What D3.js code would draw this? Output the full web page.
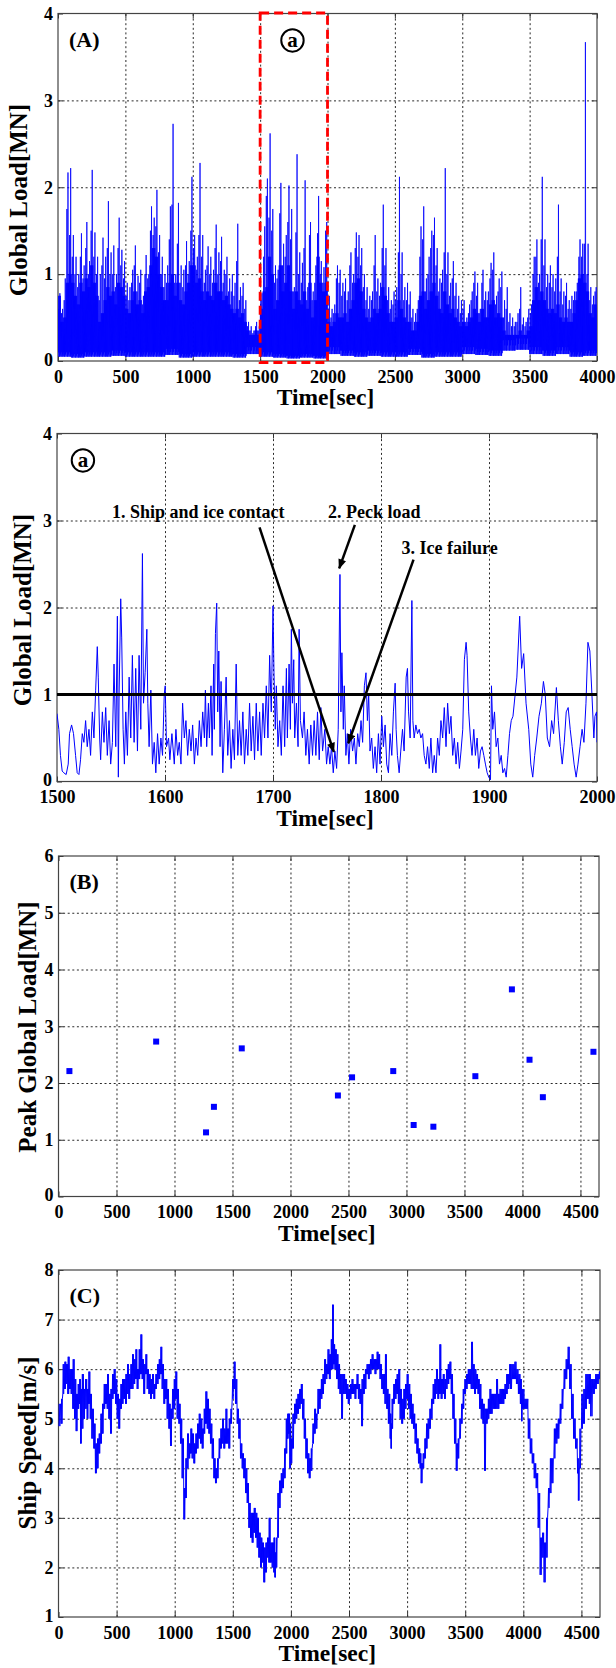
<!DOCTYPE html>
<html><head><meta charset="utf-8">
<script src="https://cdn.jsdelivr.net/npm/d3@7"></script>
<style>
body{margin:0;background:#fff}
svg{display:block}
text{font-family:"Liberation Serif","Times New Roman",serif;font-weight:bold;fill:#000}
</style>
</head><body>
<svg id="c" width="616" height="1668"></svg>
<script>
// ---------------- DATA ----------------
// (A) global load, 4000 s, per 20 s bin: peak and dense-core top; floor per 100 s
const loadBinSec = 20;
const loadPeak = [0.78,0.6,0.95,2.17,2.22, 1.45,1.2,1.0,1.47,1.1, 1.6,1.15,2.2,1.48,1.2, 1.0,1.42,1.2,1.84,1.25,
 1.33,1.0,1.65,1.28,1.15, 0.9,0.85,1.05,1.33,0.98, 1.05,0.75,1.22,1.0,1.78, 1.65,1.97,1.45,1.2,1.0,
 1.1,1.78,2.73,1.0,1.82, 1.1,1.05,1.38,1.15,2.12, 1.45,1.2,2.28,1.45,1.05, 1.32,1.2,1.05,1.57,1.25,
 1.43,1.05,1.2,0.95,1.0, 0.9,1.58,0.85,0.9,0.7, 0.45,0.4,0.35,0.45,0.4, 0.78,1.55,2.1,2.62,1.75,
 1.1,1.05,2.05,1.35,1.45, 2.02,1.75,0.85,2.38,1.25, 1.13,2.08,0.85,1.6,0.8, 1.1,1.9,1.15,1.08,1.6,
 0.75,0.6,0.65,1.1,1.05, 0.9,0.95,0.8,1.25,1.0, 1.48,1.45,1.3,1.0,0.85, 0.75,0.8,1.45,0.95,0.9,
 1.8,1.3,0.85,0.7,0.8, 0.85,2.12,1.25,0.85,0.9, 0.8,0.6,0.55,0.7,1.55, 1.78,0.95,1.2,1.5,1.65,
 1.3,0.95,1.05,2.22,1.25, 0.9,1.15,0.9,0.75,0.7, 0.7,0.5,0.65,0.8,1.03, 0.9,0.6,1.05,0.8,0.8,
 1.13,1.25,0.75,0.95,1.03, 0.7,0.85,0.55,0.5,0.45, 0.55,0.85,0.5,0.45,0.6, 0.65,1.2,1.4,1.0,2.12,
 1.4,1.0,1.1,1.0,0.95, 1.8,0.95,0.8,0.9,0.7, 0.75,0.8,0.9,1.4,1.35, 3.67,1.35,0.85,0.75,0.85];
const loadCore = [0.75,0.45,0.5,0.9,1.0, 0.9,0.75,0.65,0.9,0.8, 0.95,0.85,1.1,0.9,0.75, 0.45,0.55,0.7,0.85,0.75,
 0.8,0.65,0.9,0.85,0.75, 0.6,0.55,0.7,0.8,0.65, 0.7,0.55,0.8,0.85,1.1, 1.3,1.2,1.0,0.85,0.7,
 0.7,0.9,1.0,0.75,0.9, 0.7,0.65,0.8,0.9,1.1, 1.1,0.9,0.95,0.8,0.7, 0.8,0.75,0.7,0.9,0.8,
 0.8,0.7,0.75,0.65,0.6, 0.55,0.6,0.5,0.55,0.45, 0.35,0.3,0.3,0.35,0.3, 0.6,0.8,0.85,1.2,1.0,
 0.6,0.7,1.1,0.8,0.9, 1.1,0.8,0.6,0.8,0.7, 0.65,0.8,0.6,0.9,0.5, 0.7,1.2,0.9,0.8,0.9,
 0.45,0.4,0.45,0.55,0.5, 0.5,0.55,0.45,0.6,0.7, 0.9,0.95,0.8,0.6,0.5, 0.45,0.5,0.6,0.55,0.6,
 0.85,0.75,0.55,0.45,0.45, 0.5,0.7,0.6,0.5,0.45, 0.45,0.35,0.35,0.45,0.75, 0.8,0.6,0.7,0.8,0.9,
 0.75,0.6,0.55,0.8,0.65, 0.55,0.6,0.5,0.45,0.4, 0.45,0.4,0.45,0.5,0.6, 0.55,0.45,0.6,0.5,0.5,
 0.65,0.7,0.5,0.55,0.5, 0.35,0.3,0.3,0.3,0.3, 0.3,0.35,0.3,0.3,0.35, 0.4,0.7,0.85,0.7,0.8,
 0.7,0.6,0.55,0.6,0.55, 0.65,0.5,0.45,0.5,0.45, 0.45,0.55,0.7,0.95,1.0, 0.9,0.8,0.55,0.5,0.65];
// secondary spikes inside each 20 s bin (mid-height spikes above the dense core)
const loadMid = [0.6,0.55,0.7,1.75,1.45, 1.2,1.0,0.85,1.2,0.95, 1.3,1.0,1.5,1.2,1.0, 0.7,1.1,0.95,1.3,1.0,
 1.0,0.85,1.3,1.1,0.95, 0.75,0.7,0.9,1.1,0.8, 0.9,0.65,1.0,0.95,1.5, 1.45,1.55,1.25,1.0,0.85,
 0.9,1.4,1.8,0.9,1.35, 0.9,0.85,1.1,1.0,1.5, 1.3,1.05,1.45,1.2,0.9, 1.1,1.0,0.9,1.3,1.0,
 1.15,0.9,1.0,0.8,0.8, 0.75,1.15,0.7,0.75,0.6, 0.4,0.35,0.32,0.4,0.35, 0.7,1.2,1.9,1.65,1.5,
 0.9,0.95,1.7,1.1,1.2, 1.6,1.4,0.8,1.48,1.0, 0.9,1.3,0.7,1.45,0.7, 0.9,1.47,1.0,0.9,1.5,
 0.6,0.5,0.55,0.95,0.9, 0.75,0.8,0.7,1.1,0.9, 1.3,1.2,1.1,0.85,0.7, 0.6,0.7,1.1,0.8,0.75,
 1.3,1.1,0.7,0.6,0.65, 0.7,1.25,1.0,0.7,0.7, 0.65,0.5,0.45,0.6,1.2, 1.4,0.8,1.0,1.3,1.45,
 1.1,0.8,0.9,1.25,1.0, 0.75,0.95,0.75,0.6,0.55, 0.6,0.45,0.55,0.7,0.9, 0.75,0.55,0.9,0.7,0.7,
 0.95,1.05,0.65,0.8,0.85, 0.5,0.6,0.45,0.4,0.4, 0.45,0.6,0.42,0.4,0.5, 0.55,1.0,1.2,0.9,1.4,
 1.1,0.85,0.9,0.85,0.8, 1.2,0.8,0.65,0.75,0.6, 0.6,0.7,0.8,1.2,1.2, 1.35,1.0,0.7,0.65,0.8];
const loadFloorSec = 100;
const loadFloor = [0.05,0.04,0.05,0.05,0.06,0.05,0.05,0.05,0.07,0.04,
 0.05,0.05,0.05,0.04,0.08,0.05,0.04,0.03,0.04,0.03,
 0.08,0.06,0.05,0.06,0.05,0.05,0.07,0.04,0.05,0.05,
 0.08,0.07,0.06,0.12,0.13,0.08,0.06,0.08,0.05,0.06];

// (a) detail 1500-2000 s
const zoomT = [1500,1501.7,1503.2,1504.8,1506.3,1508.5,1510.4,1511.6,1513.5,1515.3,1517.2,1518.7,1520.3,1521.8,1523.4,1524.9,1526.5,1528,1529.6,1531.1,1532.7,1534.2,1535.8,1537.3,1538.2,1539.5,1540.4,1542,1543.5,1545.1,1546.6,1548.2,1549.7,1551.3,1552.8,1554.4,1555.9,1556.8,1557.5,1559,1559.9,1561.2,1562.4,1563.7,1565.2,1566.8,1568.3,1569.8,1571.4,1572.9,1574.5,1576,1577.6,1579.1,1580.1,1581.6,1583.2,1584.1,1585.3,1586.9,1588.4,1590,1591.5,1593.1,1594.6,1596.2,1597.7,1599.3,1600.2,1601.4,1603.3,1604.5,1606.4,1608.6,1610.1,1611.7,1613.2,1614.8,1616.3,1617.9,1619.4,1621,1622.5,1624.1,1625.6,1627.2,1628.7,1630.3,1631.8,1633.4,1634.9,1636.5,1637.4,1638.6,1640.2,1641.1,1642.6,1643.6,1645.1,1645.7,1646.7,1647.9,1648.8,1649.8,1651,1651.9,1653.5,1655,1656.6,1658.1,1659.7,1661.2,1662.8,1664.3,1665.9,1667.4,1669,1670.5,1672.1,1673.6,1675.2,1676.7,1678.3,1679.8,1681.4,1682.9,1684.5,1686,1687.6,1689.1,1690.7,1692.2,1693.8,1695.3,1696.9,1698.4,1700,1700.9,1702.1,1703.1,1704.6,
 1706.2,1707.7,1709.3,1710.8,1712.4,1713.3,1714.9,1716.1,1717,1718,1719.2,1720.1,1721.7,1723.2,1724.2,1725.4,1727.3,1728.8,1730.4,1731.9,1733.5,1735,1736.6,1738.1,1739.7,1741.2,1742.8,1744.3,1745.9,1748,1749.6,1751.1,1752.7,1754.2,1755.8,1757.3,1758.9,1760.4,1762,1762.9,1763.8,1765.1,1766,1767.5,1768.8,1770.3,1771.9,1773.7,1775.3,1776.8,1778.4,1779.9,1781.5,1783,1784.6,1786.1,1787.4,1788.6,1789.8,1791.4,1792.9,1794.5,1796,1797.6,1799.1,1800.7,1802.2,1803.8,1805.3,1806.9,1808.4,1810,1811.5,1813.1,1814,1815.2,1816.8,1818.3,1819.9,1821.4,1823.3,1824.5,1825.5,1827,1828.6,1829.5,1830.7,1832.3,1833.8,1835.4,1836.9,1838.5,1840,1841.6,1843.1,1844.7,1846.2,1847.8,1849.3,1850.9,1852.4,1854,1855.5,1857.1,1858.6,1860.2,1861.7,1863.3,1864.8,1866.4,1867.9,1869.5,1871,1872.6,1874.1,1875.7,1877.2,1878.8,1879.7,1881.2,1882.8,1884.3,1885.9,1887.4,1889,1890.5,1892.1,1893.6,1895.2,1896.7,1898.3,1899.8,1901.4,1902.3,1903.5,1905.1,1906.6,1908.2,1909.7,1911.3,1912.8,1914.4,1915.9,1917.5,1919,1920.6,
 1922.2,1925.8,1928.4,1930.2,1932.1,1934.3,1936.8,1938.7,1940.5,1942.3,1944.2,1946.3,1948.5,1950.4,1952.1,1954,1956.1,1958,1959.8,1962.4,1964.2,1966.1,1967.8,1969.7,1971.5,1973.3,1975.2,1977,1978.8,1980.7,1982.4,1984.3,1986.2,1987.9,1989.8,1991.6,1993.4,1995.3,1997.1,1998.1,1999.6,2000];
const zoomLoad = [0.78,0.6,0.3,0.12,0.1,0.08,0.2,0.55,0.65,0.55,0.3,0.1,0.08,0.25,0.55,0.45,0.7,0.4,0.6,0.3,0.8,0.5,1.05,1.55,1.2,0.5,0.25,0.8,0.45,0.85,0.3,0.7,0.2,0.45,1.35,0.4,1.9,0.05,1.0,2.1,1.65,0.6,0.2,0.8,0.3,1.2,0.5,1.45,0.45,1.3,0.35,1.45,0.6,2.62,0.9,1.25,1.75,0.9,0.4,1.05,0.2,0.45,0.1,0.55,0.2,0.5,0.3,1.0,1.1,0.4,0.5,0.25,0.55,0.2,0.6,0.3,0.45,0.2,0.9,0.5,0.7,0.3,0.6,0.35,0.65,0.2,0.5,0.3,0.7,0.4,0.8,0.5,1.05,0.4,0.9,0.5,1.1,0.3,1.35,0.6,1.7,2.05,0.8,1.5,0.4,1.15,0.1,0.6,1.2,0.3,0.7,0.15,0.6,0.25,1.35,0.3,0.7,0.3,0.8,0.2,0.6,0.3,0.9,0.35,0.75,0.25,0.9,0.35,0.8,0.3,0.9,0.5,1.1,0.5,1.45,0.8,2.02,1.25,0.6,1.1,0.4,
 0.7,0.3,1.1,0.4,1.3,0.5,1.35,0.6,1.75,0.9,1.4,0.5,0.9,0.4,1.75,0.7,0.5,0.8,0.3,0.6,0.2,0.65,0.3,0.7,0.3,0.8,0.25,0.85,0.35,0.6,0.2,0.4,0.2,0.4,0.1,0.35,0.15,0.6,2.38,0.8,1.48,0.6,1.1,0.3,0.55,0.2,0.6,0.35,0.5,0.2,0.55,0.4,0.7,0.45,1.1,1.25,0.7,1.0,0.35,0.5,0.15,0.4,0.1,0.55,0.2,0.75,0.4,0.65,0.2,0.1,0.55,0.3,0.8,1.13,0.6,0.3,0.1,0.35,0.6,0.35,1.2,1.3,0.8,0.5,2.08,0.7,0.5,0.65,0.55,0.6,0.5,0.55,0.3,0.2,0.4,0.15,0.5,0.1,0.3,0.1,0.5,0.3,0.7,0.5,0.85,0.4,0.9,0.55,0.75,0.3,0.5,0.2,0.45,0.15,0.35,0.6,1.4,1.6,1.45,0.8,0.5,0.3,0.6,0.3,0.5,0.15,0.35,0.4,0.3,0.2,0.1,0.05,0.02,1.1,0.6,0.8,0.4,0.5,0.2,0.3,0.1,0.15,0.05,0.3,0.55,0.7,
 0.75,1.2,1.9,1.3,1.47,0.9,0.6,0.2,0.05,0.3,0.5,0.75,0.9,1.15,1.0,0.5,0.4,0.7,0.55,1.08,0.7,0.4,0.2,0.45,0.8,0.85,0.6,0.4,0.2,0.05,0.2,0.4,0.6,0.45,0.9,1.6,1.5,1.0,0.5,0.75,0.8,0.45];
const thresholdLoad = 1;

// (B) peak global load
const peakTime = [94,842,1272,1340,1580,2409,2531,2886,3062,3232,3594,3909,4061,4176,4612];
const peakLoad = [2.21,2.73,1.13,1.58,2.61,1.78,2.10,2.21,1.26,1.23,2.12,3.65,2.41,1.75,2.55];

// (C) ship speed: sample times with low / high of the noisy band
const speedT = [0,23,37,52,66,80,95,109,123,138,152,166,181,190,201,218,229,247,258,273,287,304,318,333,347,362,376,390,405,419,433,448,462,476,491,505,519,534,548,562,577,591,605,620,634,648,663,677,691,706,720,734,749,763,778,792,806,821,835,849,864,878,892,907,921,935,950,964,978,993,1007,1021,1036,1050,1064,1079,1093,1107,1122,1136,1150,1165,1179,1194,1208,1222,1237,1251,1265,1280,1294,1308,1323,1337,1351,1366,1380,1394,1409,1423,1438,1452,1466,1481,1495,1509,1523,1538,1552,1566,1581,1595,1610,1624,1638,1653,1667,1681,1696,1710,1724,1739,1753,1767,1782,1796,1810,1824,1839,1853,1862,1871,1885,1899,1914,1928,1943,1957,1971,1980,1991,2000,2014,2029,2043,2057,2072,2086,2101,2115,2129,2144,2158,2172,2187,2201,2216,2230,2244,2259,2273,2287,2302,2316,2331,2345,2356,2368,2379,2394,2408,2422,2437,2451,2466,2480,2494,2509,2523,2537,2552,2566,2581,2595,2609,2624,2638,2652,2667,2681,2696,2710,2724,2739,2753,2767,2782,2796,2810,2825,2839,2854,2862,2868,2882,2897,2911,2925,2940,2954,2969,2983,2997,3012,3026,3040,3055,3069,3084,3098,3112,3121,3135,3150,3164,3178,3193,3207,3221,3236,3250,3265,3279,3293,3308,3322,3336,3351,3365,3380,3394,3408,3423,3437,3451,3466,3480,3494,3509,3523,3538,3552,3566,3581,3595,3610,3624,3638,3653,3667,3681,3696,3710,3724,3739,3753,3767,3782,3796,3811,3825,3839,3854,3868,3882,3890,3907,3924,3941,3958,3975,3985,3992,4009,4026,4043,4060,4077,4094,4111,4128,4145,4162,4179,4196,4213,4229,4246,4263,4280,4297,4314,4331,4348,4365,4382,4399,4416,4433,4450,4467,4474,4484,4500,4517,4534,4551,4568,4580,4602,4619,4636,4653];
const speedLo = [4.85,4.9,5.5,5.6,5.7,5.5,5.6,5.5,5.2,5.0,4.75,5.2,5.3,4.5,4.8,5.0,5.2,5.0,5.3,5.0,4.6,4.4,3.9,4.0,4.3,4.5,4.7,5.2,5.3,5.2,5.0,4.7,5.4,5.5,5.3,5.0,4.8,5.2,5.3,5.4,5.3,5.5,5.4,5.6,5.6,5.7,5.8,5.6,5.8,5.9,5.8,5.5,5.9,5.6,5.5,5.4,5.5,5.4,5.6,5.7,5.8,5.9,5.6,5.3,5.4,5.0,4.8,4.45,5.0,5.2,5.4,5.0,4.9,4.5,3.8,2.97,3.4,4.0,4.2,4.3,4.2,4.1,4.3,4.4,4.6,4.5,4.4,4.7,4.9,4.8,4.7,4.5,4.2,3.8,3.7,3.8,4.2,4.4,4.5,4.4,4.5,4.5,4.4,4.9,5.4,5.6,5.3,4.9,4.6,4.2,4.0,3.8,3.5,3.3,2.8,2.6,2.5,2.7,2.6,2.4,2.2,2.0,2.1,1.7,1.9,2.2,2.1,2.1,2.0,1.9,1.8,2.0,2.6,3.2,3.5,3.6,3.8,4.3,4.6,4.7,4.0,4.1,4.4,4.9,5.0,5.1,5.2,5.3,5.0,4.6,4.2,3.9,3.8,3.95,4.5,4.7,4.8,5.1,5.2,5.4,5.5,5.7,5.8,5.9,5.8,6.0,6.0,6.1,6.0,5.8,5.6,5.5,5.0,5.5,5.5,5.4,5.3,5.4,5.5,5.5,5.4,5.6,5.4,5.3,4.85,5.5,5.6,5.9,5.8,5.9,6.0,6.0,5.9,6.0,6.0,5.8,5.6,5.5,5.3,5.2,4.9,4.6,4.4,4.8,5.3,5.4,5.5,5.3,5.0,4.9,5.0,5.2,5.4,5.2,5.0,4.9,4.8,4.5,4.3,4.1,4.0,3.7,4.0,4.2,4.4,4.6,4.8,5.0,5.3,5.4,5.5,5.4,5.5,5.4,5.5,5.4,5.6,5.7,5.8,5.5,5.0,4.5,3.95,4.2,4.6,4.9,5.2,5.5,5.6,5.7,5.7,5.6,5.6,5.5,5.6,5.5,5.2,5.0,4.9,3.95,4.9,5.0,5.1,5.1,5.2,5.2,5.2,5.2,5.3,5.3,5.3,5.4,5.5,5.6,5.7,5.6,5.8,5.8,5.7,5.5,5.3,4.95,5.2,5.2,5.2,4.6,4.3,4.1,3.8,3.6,2.8,1.85,2.2,1.7,2.2,3.2,3.5,3.7,4.2,4.5,4.6,4.9,5.2,5.6,5.8,6.0,5.6,5.0,4.6,4.4,3.9,3.35,4.0,4.8,4.9,5.2,5.4,5.3,5.05,5.5,5.6,5.7,5.8];
const speedHi = [5.3,5.4,6.1,6.15,6.1,6.25,6.0,6.0,6.2,5.8,5.5,5.7,5.8,5.6,5.9,5.6,5.8,5.6,5.95,5.5,5.2,4.9,4.5,4.6,4.7,5.1,5.3,5.7,5.7,5.9,5.5,5.6,5.9,6.0,5.8,5.5,5.4,5.7,5.8,5.8,5.9,6.1,5.9,6.1,6.3,6.2,6.4,6.0,6.4,6.7,6.2,6.1,6.3,6.0,5.9,5.8,5.9,5.7,5.9,6.1,6.2,6.45,6.1,5.8,5.8,5.6,5.3,5.2,5.6,5.8,5.95,5.6,5.3,5.0,4.6,3.6,4.2,4.7,4.5,4.8,4.7,4.5,4.7,4.9,5.1,5.0,4.8,5.2,5.55,5.4,5.2,4.9,4.6,4.2,4.0,4.2,4.6,4.8,5.0,4.8,5.2,4.8,5.0,5.2,5.8,6.15,5.8,5.2,5.0,4.5,4.3,4.2,4.0,3.7,3.3,3.1,3.1,3.2,3.1,3.0,2.7,2.6,2.5,2.4,2.5,2.6,3.0,2.5,2.5,2.6,2.3,2.6,3.5,3.75,3.9,4.0,4.4,5.0,5.1,5.1,4.9,4.6,5.1,5.3,5.4,5.5,5.6,5.7,5.4,5.0,4.6,4.3,4.2,4.4,4.9,5.2,5.1,5.6,5.6,5.8,5.9,6.2,6.1,6.4,6.3,6.6,7.3,6.5,6.4,6.3,6.1,5.9,5.9,5.9,5.8,5.7,5.6,5.7,5.8,5.7,5.7,5.9,5.7,5.6,5.8,5.9,6.0,6.1,6.1,6.2,6.3,6.2,6.2,6.35,6.3,6.1,5.9,5.9,6.3,5.6,5.5,5.1,4.9,5.4,5.7,5.8,5.9,6.0,5.6,5.4,5.6,5.7,5.9,5.7,5.5,5.3,5.1,4.9,4.6,4.4,4.3,4.1,4.3,4.6,4.9,5.0,5.2,5.4,5.7,5.8,6.0,5.8,6.5,5.8,5.9,5.8,6.0,6.1,6.15,5.9,5.5,5.0,4.5,4.6,5.0,5.3,5.6,5.8,5.9,6.0,6.0,6.55,6.1,6.0,5.9,5.8,5.7,5.4,5.3,5.2,5.2,5.4,5.6,5.5,5.5,5.5,5.8,5.5,5.6,5.6,5.6,5.7,5.9,5.9,6.1,6.1,6.1,6.15,6.0,5.9,5.8,5.6,5.6,5.4,5.4,5.0,4.6,4.3,4.1,3.9,3.5,2.6,2.7,2.5,3.0,3.6,4.2,4.2,4.8,4.9,5.0,5.3,5.6,6.0,6.2,6.45,6.1,5.5,5.0,4.6,4.2,4.0,4.8,5.5,5.6,5.9,5.9,5.9,5.8,5.8,5.9,5.9,5.95];

// ticks
const ticksA_x = [0,500,1000,1500,2000,2500,3000,3500,4000];
const ticksA_y = [0,1,2,3,4];
const ticksZ_x = [1500,1600,1700,1800,1900,2000];
const ticksB_x = [0,500,1000,1500,2000,2500,3000,3500,4000,4500];
const ticksB_y = [0,1,2,3,4,5,6];
const ticksC_y = [1,2,3,4,5,6,7,8];

// annotations in panel (a)
const noteText = ["1. Ship  and ice contact","2. Peck load","3. Ice failure"];
const noteT = [1551,1751,1819];
const noteV = [3.10,3.10,2.68];
const arrowFrom = [[1687.5,2.92],[1775.8,2.95],[1830.1,2.55]];
const arrowTo = [[1756.3,0.34],[1761.3,2.45],[1769.7,0.44]];

// ---------------- DRAW ----------------
const svg = d3.select("#c");
const BLUE = "#0000ff";
const box = {
  A:{l:58,r:597,t:13.5,b:361},
  a:{l:57,r:597,t:433.5,b:781.5},
  B:{l:58.5,r:599,t:856,b:1196.5},
  C:{l:58.5,r:600,t:1270,b:1617}
};
const defs = svg.append("defs");
defs.append("marker").attr("id","arr").attr("markerUnits","userSpaceOnUse")
  .attr("viewBox","0 0 10 8").attr("refX",9).attr("refY",4)
  .attr("markerWidth",11).attr("markerHeight",8).attr("orient","auto")
  .append("path").attr("d","M0,0 L10,4 L0,8 Z").attr("fill","#000");

function clip(id,b){
  defs.append("clipPath").attr("id",id).append("rect")
    .attr("x",b.l).attr("y",b.t).attr("width",b.r-b.l).attr("height",b.b-b.t);
}

function frame(b,x,y,xt,yt,yTitle,ytx,yty,label){
  const g = svg.append("g");
  const w=b.r-b.l, h=b.b-b.t;
  const inner = v=>Math.abs(v-b.l)>1.5 && Math.abs(v-b.r)>1.5;
  const innerY = v=>Math.abs(v-b.t)>1.5 && Math.abs(v-b.b)>1.5;
  const gx = g.append("g").attr("transform",`translate(0,${b.b})`)
    .call(d3.axisBottom(x).tickValues(xt.filter(v=>inner(x(v)))).tickSize(-h).tickFormat(""));
  gx.select(".domain").remove();
  gx.selectAll("line").attr("stroke","#111").attr("stroke-width",0.9).attr("stroke-dasharray","2,2.6");
  const gy = g.append("g").attr("transform",`translate(${b.l},0)`)
    .call(d3.axisLeft(y).tickValues(yt.filter(v=>innerY(y(v)))).tickSize(-w).tickFormat(""));
  gy.select(".domain").remove();
  gy.selectAll("line").attr("stroke","#111").attr("stroke-width",0.9).attr("stroke-dasharray","2,2.6");
  const tk = [
    [d3.axisBottom(x).tickValues(xt).tickSize(-5).tickFormat(""), `translate(0,${b.b})`],
    [d3.axisTop(x).tickValues(xt).tickSize(-5).tickFormat(""), `translate(0,${b.t})`],
    [d3.axisLeft(y).tickValues(yt).tickSize(-5).tickFormat(""), `translate(${b.l},0)`],
    [d3.axisRight(y).tickValues(yt).tickSize(-5).tickFormat(""), `translate(${b.r},0)`]
  ];
  tk.forEach(([ax,tr])=>{
    const s=g.append("g").attr("transform",tr).call(ax);
    s.select(".domain").remove();
    s.selectAll("line").attr("stroke","#333").attr("stroke-width",1);
  });
  g.append("rect").attr("x",b.l).attr("y",b.t).attr("width",w).attr("height",h)
    .attr("fill","none").attr("stroke","#444").attr("stroke-width",1.2);
  const lx = g.append("g").attr("transform",`translate(0,${b.b})`)
    .call(d3.axisBottom(x).tickValues(xt).tickSize(0).tickPadding(9).tickFormat(d3.format("d")));
  lx.select(".domain").remove();
  const ly = g.append("g").attr("transform",`translate(${b.l},0)`)
    .call(d3.axisLeft(y).tickValues(yt).tickSize(0).tickPadding(5).tickFormat(d3.format("d")));
  ly.select(".domain").remove();
  [lx,ly].forEach(s=>s.attr("font-family",null).attr("font-size",null)
     .selectAll("text").attr("font-size",18).attr("font-weight","bold").attr("fill","#000"));
  ly.selectAll("text").filter(d=>Math.abs(y(d)-b.b)<1).attr("dy","0.24em");
  svg.append("text").attr("x",(b.l+b.r)/2-2).attr("y",b.b+44).attr("text-anchor","middle")
    .attr("font-size",23.5).text("Time[sec]");
  svg.append("text").attr("transform",`translate(${ytx},${yty}) rotate(-90)`)
    .attr("text-anchor","middle").attr("dy","0.32em").attr("font-size",25).text(yTitle);
  if(label) svg.append("text").attr("x",b.l+11).attr("y",b.t+33).attr("font-size",22).text(label);
}

function circledA(cx,cy){
  svg.append("circle").attr("cx",cx).attr("cy",cy).attr("r",11.2)
    .attr("fill","#fff").attr("stroke","#000").attr("stroke-width",2);
  svg.append("text").attr("x",cx).attr("y",cy+6.5).attr("text-anchor","middle")
    .attr("font-size",21).text("a");
}

// ---------- Panel A ----------
{
  const b=box.A;
  const x=d3.scaleLinear().domain([0,4000]).range([b.l,b.r]);
  const y=d3.scaleLinear().domain([0,4]).range([b.b,b.t]);
  frame(b,x,y,ticksA_x,ticksA_y,"Global Load[MN]",19,200,"(A)");
  clip("clipA",b);
  const pts=[];
  loadPeak.forEach((pk,i)=>{
    const t0=i*loadBinSec, fl=loadFloor[Math.floor(t0/loadFloorSec)];
    const c=loadCore[i], m=loadMid[i];
    pts.push([t0,fl],[t0+2,c],[t0+4,fl*2],[t0+6,m],[t0+8,fl],[t0+10,c],
             [t0+12,fl],[t0+14,pk],[t0+16,fl*1.5],[t0+18,c]);
  });
  svg.append("path").attr("clip-path","url(#clipA)").datum(pts)
    .attr("d",d3.line().x(d=>x(d[0])).y(d=>y(d[1])))
    .attr("fill","none").attr("stroke",BLUE).attr("stroke-width",0.8);
  svg.append("rect").attr("x",x(1500)).attr("y",b.t-0.5).attr("width",x(2000)-x(1500)).attr("height",b.b-b.t+2)
    .attr("fill","none").attr("stroke","#ff0000").attr("stroke-width",2.8).attr("stroke-dasharray","9,5");
  circledA(x(1740),y(3.69));
}

// ---------- Panel a ----------
{
  const b=box.a;
  const x=d3.scaleLinear().domain([1500,2000]).range([b.l,b.r]);
  const y=d3.scaleLinear().domain([0,4]).range([b.b,b.t]);
  frame(b,x,y,ticksZ_x,ticksA_y,"Global Load[MN]",23,610,null);
  clip("clipa",b);
  svg.append("path").attr("clip-path","url(#clipa)").datum(zoomT.map((t,i)=>[t,zoomLoad[i]]))
    .attr("d",d3.line().x(d=>x(d[0])).y(d=>y(d[1])))
    .attr("fill","none").attr("stroke",BLUE).attr("stroke-width",1);
  svg.append("line").attr("x1",b.l).attr("x2",b.r).attr("y1",y(thresholdLoad)).attr("y2",y(thresholdLoad))
    .attr("stroke","#000").attr("stroke-width",3);
  circledA(x(1524),y(3.69));
  noteText.forEach((s,i)=>{
    svg.append("text").attr("x",x(noteT[i])).attr("y",y(noteV[i])+6).attr("font-size",18).text(s);
  });
  arrowFrom.forEach((f,i)=>{
    svg.append("line").attr("x1",x(f[0])).attr("y1",y(f[1])).attr("x2",x(arrowTo[i][0])).attr("y2",y(arrowTo[i][1]))
      .attr("stroke","#000").attr("stroke-width",2.5).attr("marker-end","url(#arr)");
  });
}

// ---------- Panel B ----------
{
  const b=box.B;
  const x=d3.scaleLinear().domain([0,4660]).range([b.l,b.r]);
  const y=d3.scaleLinear().domain([0,6]).range([b.b,b.t]);
  frame(b,x,y,ticksB_x,ticksB_y,"Peak Global Load[MN]",28,1027,"(B)");
  const s=6;
  svg.append("g").selectAll("rect").data(peakTime.map((t,i)=>[t,peakLoad[i]])).join("rect")
    .attr("x",d=>x(d[0])-s/2).attr("y",d=>y(d[1])-s/2).attr("width",s).attr("height",s).attr("fill",BLUE);
}

// ---------- Panel C ----------
{
  const b=box.C;
  const x=d3.scaleLinear().domain([0,4660]).range([b.l,b.r]);
  const y=d3.scaleLinear().domain([1,8]).range([b.b,b.t]);
  frame(b,x,y,ticksB_x,ticksC_y,"Ship Speed[m/s]",28,1443,"(C)");
  clip("clipC",b);
  const pts=[];
  speedT.forEach((t,i)=>{
    const nt = i<speedT.length-1 ? speedT[i+1] : 4660, d=nt-t;
    pts.push([t,speedLo[i]],[t+d*0.25,speedHi[i]],[t+d*0.5,speedLo[i]],[t+d*0.75,speedHi[i]]);
  });
  svg.append("path").attr("clip-path","url(#clipC)").datum(pts)
    .attr("d",d3.line().x(d=>x(d[0])).y(d=>y(d[1])))
    .attr("fill","none").attr("stroke",BLUE).attr("stroke-width",1);
}
</script>
</body></html>
